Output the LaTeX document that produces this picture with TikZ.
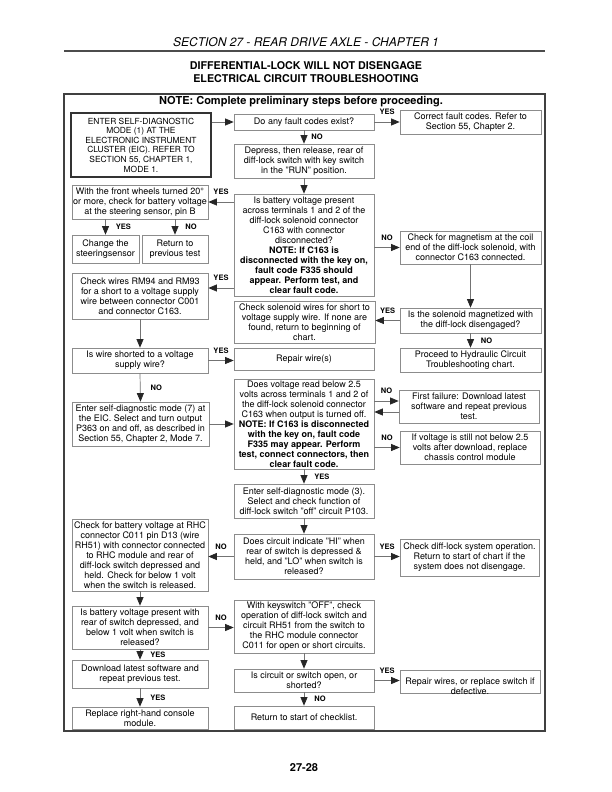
\documentclass[tikz,border=0pt]{standalone}
\usepackage{fontspec}
\setmainfont{TeX Gyre Heros}
\usetikzlibrary{arrows.meta}
\tikzset{
  box/.style={draw=black!45, line width=0.7pt, align=center, inner sep=0pt, font=\fontsize{9}{10}\selectfont},
  sz/.style 2 args={minimum width=#1pt, minimum height=#2pt},
  arr/.style={draw=black!55, line width=0.7pt, -{Triangle[length=8.5pt,width=7pt,color=black!85]}},
  lbl/.style={font=\fontsize{7.5}{8}\selectfont\bfseries, inner sep=1pt},
}
\begin{document}
\begin{tikzpicture}[x=1pt,y=-1pt]
\useasboundingbox (0,0) rectangle (612,792);
\node[font=\fontsize{12}{14}\selectfont\itshape] (sect) at (306,42) {SECTION 27 - REAR DRIVE AXLE - CHAPTER 1};
\draw[line width=1.2pt, black!70] (64,51) -- (545,51);
\node[font=\fontsize{10.7}{13}\selectfont\bfseries, align=center] (title) at (306,72.5) {DIFFERENTIAL-LOCK WILL NOT DISENGAGE\\ELECTRICAL CIRCUIT TROUBLESHOOTING};
\draw[line width=1.3pt, black!75] (64,94) rectangle (545,731);
\node[font=\fontsize{11}{13}\selectfont\bfseries] (note) at (301,102) {NOTE: Complete preliminary steps before proceeding.};
\node[font=\fontsize{11}{13}\selectfont\bfseries] (page) at (304,768) {27-28};

\node[box, sz={140}{64}, draw=black!80, line width=1.5pt, font=\fontsize{8.4}{9.6}\selectfont] (enter) at (141,145) {ENTER SELF-DIAGNOSTIC\\MODE (1) AT THE\\ELECTRONIC INSTRUMENT\\CLUSTER (EIC). REFER TO\\SECTION 55, CHAPTER 1,\\MODE 1.};
\node[box, sz={140}{16}] (faults) at (304,122) {Do any fault codes exist?};
\node[box, sz={141}{24}] (correct) at (470.5,122) {Correct fault codes. Refer to\\Section 55, Chapter 2.};
\node[box, sz={140}{34}] (depress) at (304,161) {Depress, then release, rear of\\diff-lock switch with key switch\\in the "RUN" position.};
\node[box, sz={136}{34}] (wheels) at (140,202) {With the front wheels turned 20°\\or more, check for battery voltage\\at the steering sensor, pin B};
\node[box, sz={140}{102}] (batt) at (304,245) {Is battery voltage present\\across terminals 1 and 2 of the\\diff-lock solenoid connector\\C163 with connector\\disconnected?\\\textbf{NOTE: If C163 is}\\\textbf{disconnected with the key on,}\\\textbf{fault code F335 should}\\\textbf{appear. Perform test, and}\\\textbf{clear fault code.}};
\node[box, sz={67}{28}] (change) at (105.5,249) {Change the\\steeringsensor};
\node[box, sz={66}{28}] (back) at (175,249) {Return to\\previous test};
\node[box, sz={141}{33}] (magnet) at (470.5,247.5) {Check for magnetism at the coil\\end of the diff-lock solenoid, with\\connector C163 connected.};
\node[box, sz={136}{46}] (rm94) at (140,296) {Check wires RM94 and RM93\\for a short to a voltage supply\\wire between connector C001\\and connector C163.};
\node[box, sz={141}{42}] (solwire) at (304.5,322) {Check solenoid wires for short to\\voltage supply wire. If none are\\found, return to beginning of\\chart.};
\node[box, sz={141}{25}] (magq) at (470.5,320.5) {Is the solenoid magnetized with\\the diff-lock disengaged?};
\node[box, sz={136}{25}] (short) at (140,360.5) {Is wire shorted to a voltage\\supply wire?};
\node[box, sz={140}{22}] (repair) at (304,359) {Repair wire(s)};
\node[box, sz={141}{24}] (hydr) at (470.5,360) {Proceed to Hydraulic Circuit\\Troubleshooting chart.};
\node[box, sz={137}{44}] (mode7) at (140.5,424) {Enter self-diagnostic mode (7) at\\the EIC. Select and turn output\\P363 on and off, as described in\\Section 55, Chapter 2, Mode 7.};
\node[box, sz={140}{90}] (volt) at (304,424) {Does voltage read below 2.5\\volts across terminals 1 and 2 of\\the diff-lock solenoid connector\\C163 when output is turned off.\\\textbf{NOTE: If C163 is disconnected}\\\textbf{with the key on, fault code}\\\textbf{F335 may appear. Perform}\\\textbf{test, connect connectors, then}\\\textbf{clear fault code.}};
\node[box, sz={140}{33}] (first) at (469,406.5) {First failure: Download latest\\software and repeat previous\\test.};
\node[box, sz={140}{33}] (still) at (470,447.5) {If voltage is still not below 2.5\\volts after download, replace\\chassis control module};
\node[box, sz={140}{34}] (mode3) at (304,501) {Enter self-diagnostic mode (3).\\Select and check function of\\diff-lock switch "off" circuit P103.};
\node[box, sz={136}{72}] (rhc) at (140,555) {Check for battery voltage at RHC\\connector C011 pin D13 (wire\\RH51) with connector connected\\to RHC module and rear of\\diff-lock switch depressed and\\held. Check for below 1 volt\\when the switch is released.};
\node[box, sz={140}{45}] (hilo) at (304,556.5) {Does circuit indicate "HI" when\\rear of switch is depressed \&\\held, and "LO" when switch is\\released?};
\node[box, sz={139}{37}] (system) at (469.5,557.5) {Check diff-lock system operation.\\Return to start of chart if the\\system does not disengage.};
\node[box, sz={136}{43}] (rear) at (140,627.5) {Is battery voltage present with\\rear of switch depressed, and\\below 1 volt when switch is\\released?};
\node[box, sz={140}{53}] (keysw) at (304,626.5) {With keyswitch "OFF", check\\operation of diff-lock switch and\\circuit RH51 from the switch to\\the RHC module connector\\C011 for open or short circuits.};
\node[box, sz={136}{28}] (download) at (140,674) {Download latest software and\\repeat previous test.};
\node[box, sz={140}{23}] (open) at (304,680.5) {Is circuit or switch open, or\\shorted?};
\node[box, sz={140}{23}] (rpw) at (470,681.5) {};
\node[box, draw=none] (rpwtext) at (470,686) {Repair wires, or replace switch if\\defective.};
\node[box, sz={136}{22}] (console) at (140,718) {Replace right-hand console\\module.};
\node[box, sz={140}{23}] (restart) at (304,717.5) {Return to start of checklist.};

\coordinate (rmin) at ([yshift=8pt]rm94.east);
\coordinate (fin) at ([yshift=5.5pt]first.west);
\coordinate (fout) at ([yshift=-5.5pt]first.west);
\draw[arr] (enter.east |- faults.west) -- (faults.west);
\draw[arr] (faults.east) -- node[lbl, above=6pt] {YES} (correct.west |- faults.east);
\draw[arr] (faults.south) -- node[lbl, right=6pt] {NO} (depress.north);
\draw[arr] (depress.south) -- (batt.north);
\draw[arr] (batt.west |- wheels.east) -- node[lbl, above=6pt] {YES} (wheels.east);
\draw[arr] (wheels.south -| change.north) -- node[lbl, right=9pt] {YES} (change.north);
\draw[arr] (wheels.south -| back.north) -- node[lbl, right=9pt] {NO} (back.north);
\draw[arr] (batt.east |- magnet.west) -- node[lbl, above=6pt] {NO} (magnet.west);
\draw[arr] (batt.west |- rmin) -- node[lbl, above=6pt] {YES} (rmin);
\draw[arr] (rm94.south) -- (short.north);
\draw[arr] (short.east) -- node[lbl, above=6pt] {YES} (short.east -| repair.west);
\draw[arr] (short.south) -- node[lbl, right=9pt] {NO} (mode7.north);
\draw[arr] (mode7.east) -- (volt.west |- mode7.east);
\draw[arr] (magnet.south) -- (magq.north);
\draw[arr] (magq.west) -- node[lbl, above=6pt] {YES} (solwire.east |- magq.west);
\draw[arr] (magq.south) -- node[lbl, right=9pt] {NO} (hydr.north);
\draw[arr] (volt.east |- fin) -- node[lbl, above=6pt] {NO} (fin);
\draw[arr] (fout) -- (volt.east |- fout);
\draw[arr] (volt.east |- still.west) -- node[lbl, above=6pt] {NO} (still.west);
\draw[arr] (volt.south) -- node[lbl, right=9pt] {YES} (mode3.north);
\draw[arr] (mode3.south) -- (hilo.north);
\draw[arr] (hilo.west) -- node[lbl, above=6pt] {NO} (hilo.west -| rhc.east);
\draw[arr] (hilo.east) -- node[lbl, above=6pt] {YES} (hilo.east -| system.west);
\draw[arr] (rhc.south) -- (rear.north);
\draw[arr] (rear.east) -- node[lbl, above=6pt] {NO} (rear.east -| keysw.west);
\draw[arr] (rear.south) -- node[lbl, right=9pt] {YES} (download.north);
\draw[arr] (download.south) -- node[lbl, right=9pt] {YES} (console.north);
\draw[arr] (keysw.south) -- (open.north);
\draw[arr] (open.east) -- node[lbl, above=6pt] {YES} (open.east -| rpw.west);
\draw[arr] (open.south) -- node[lbl, right=9pt] {NO} (restart.north);
\end{tikzpicture}
\end{document}
